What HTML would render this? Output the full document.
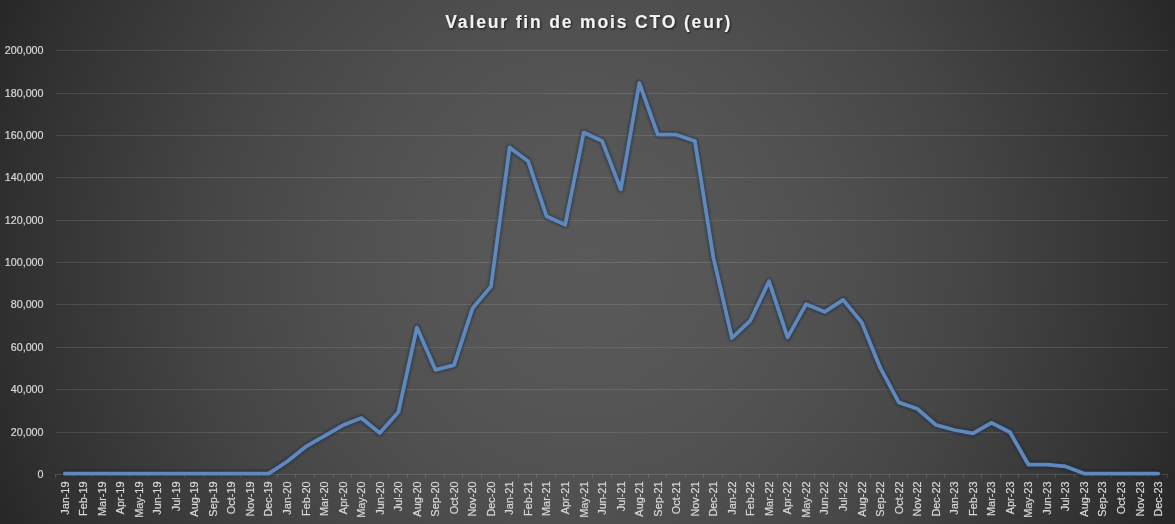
<!DOCTYPE html>
<html><head><meta charset="utf-8"><style>
html,body{margin:0;padding:0;width:1175px;height:524px;overflow:hidden;}
body{background:radial-gradient(circle farthest-corner at 587.5px 262px, rgb(89,89,89) 0%, rgb(88,88,88) 10%, rgb(86,86,86) 20%, rgb(83,83,83) 30%, rgb(79,79,79) 40%, rgb(74,74,74) 50%, rgb(69,69,69) 60%, rgb(62,62,62) 70%, rgb(55,55,55) 80%, rgb(48,48,48) 90%, rgb(39,39,39) 100%);}
svg{position:absolute;left:0;top:0;will-change:transform;}
text{font-family:"Liberation Sans",sans-serif;}
.g{stroke:rgba(255,255,255,0.11);stroke-width:1;}
.ax{stroke:rgba(255,255,255,0.13);stroke-width:1;}
.yl{font-size:10.7px;fill:#d9d9d9;stroke:#d9d9d9;stroke-width:0.2px;text-anchor:end;}
.xl{font-size:10.9px;fill:#d9d9d9;stroke:#d9d9d9;stroke-width:0.2px;text-anchor:end;}
.t{font-size:17.5px;font-weight:bold;fill:#f2f2f2;text-anchor:middle;letter-spacing:1.85px;}
.ln{fill:none;stroke:#5f89bc;stroke-width:3.8;stroke-linejoin:round;stroke-linecap:round;}
.sh{fill:none;stroke:rgba(22,38,64,0.55);stroke-width:6.2;filter:url(#bl);stroke-linejoin:round;stroke-linecap:round;}
</style></head><body>
<svg width="1175" height="524" viewBox="0 0 1175 524">
<line x1="56" y1="432.5" x2="1168" y2="432.5" class="g"/>
<line x1="56" y1="389.5" x2="1168" y2="389.5" class="g"/>
<line x1="56" y1="347.5" x2="1168" y2="347.5" class="g"/>
<line x1="56" y1="304.5" x2="1168" y2="304.5" class="g"/>
<line x1="56" y1="262.5" x2="1168" y2="262.5" class="g"/>
<line x1="56" y1="220.5" x2="1168" y2="220.5" class="g"/>
<line x1="56" y1="177.5" x2="1168" y2="177.5" class="g"/>
<line x1="56" y1="135.5" x2="1168" y2="135.5" class="g"/>
<line x1="56" y1="93.5" x2="1168" y2="93.5" class="g"/>
<line x1="56" y1="50.5" x2="1168" y2="50.5" class="g"/>
<line x1="55.0" y1="474.5" x2="1167.0" y2="474.5" class="ax"/>
<line x1="55.5" y1="474" x2="55.5" y2="478" class="ax"/>
<line x1="73.5" y1="474" x2="73.5" y2="478" class="ax"/>
<line x1="92.5" y1="474" x2="92.5" y2="478" class="ax"/>
<line x1="110.5" y1="474" x2="110.5" y2="478" class="ax"/>
<line x1="129.5" y1="474" x2="129.5" y2="478" class="ax"/>
<line x1="147.5" y1="474" x2="147.5" y2="478" class="ax"/>
<line x1="166.5" y1="474" x2="166.5" y2="478" class="ax"/>
<line x1="184.5" y1="474" x2="184.5" y2="478" class="ax"/>
<line x1="203.5" y1="474" x2="203.5" y2="478" class="ax"/>
<line x1="221.5" y1="474" x2="221.5" y2="478" class="ax"/>
<line x1="240.5" y1="474" x2="240.5" y2="478" class="ax"/>
<line x1="258.5" y1="474" x2="258.5" y2="478" class="ax"/>
<line x1="277.5" y1="474" x2="277.5" y2="478" class="ax"/>
<line x1="295.5" y1="474" x2="295.5" y2="478" class="ax"/>
<line x1="314.5" y1="474" x2="314.5" y2="478" class="ax"/>
<line x1="333.5" y1="474" x2="333.5" y2="478" class="ax"/>
<line x1="351.5" y1="474" x2="351.5" y2="478" class="ax"/>
<line x1="370.5" y1="474" x2="370.5" y2="478" class="ax"/>
<line x1="388.5" y1="474" x2="388.5" y2="478" class="ax"/>
<line x1="407.5" y1="474" x2="407.5" y2="478" class="ax"/>
<line x1="425.5" y1="474" x2="425.5" y2="478" class="ax"/>
<line x1="444.5" y1="474" x2="444.5" y2="478" class="ax"/>
<line x1="462.5" y1="474" x2="462.5" y2="478" class="ax"/>
<line x1="481.5" y1="474" x2="481.5" y2="478" class="ax"/>
<line x1="499.5" y1="474" x2="499.5" y2="478" class="ax"/>
<line x1="518.5" y1="474" x2="518.5" y2="478" class="ax"/>
<line x1="536.5" y1="474" x2="536.5" y2="478" class="ax"/>
<line x1="555.5" y1="474" x2="555.5" y2="478" class="ax"/>
<line x1="573.5" y1="474" x2="573.5" y2="478" class="ax"/>
<line x1="592.5" y1="474" x2="592.5" y2="478" class="ax"/>
<line x1="611.5" y1="474" x2="611.5" y2="478" class="ax"/>
<line x1="629.5" y1="474" x2="629.5" y2="478" class="ax"/>
<line x1="648.5" y1="474" x2="648.5" y2="478" class="ax"/>
<line x1="666.5" y1="474" x2="666.5" y2="478" class="ax"/>
<line x1="685.5" y1="474" x2="685.5" y2="478" class="ax"/>
<line x1="703.5" y1="474" x2="703.5" y2="478" class="ax"/>
<line x1="722.5" y1="474" x2="722.5" y2="478" class="ax"/>
<line x1="740.5" y1="474" x2="740.5" y2="478" class="ax"/>
<line x1="759.5" y1="474" x2="759.5" y2="478" class="ax"/>
<line x1="777.5" y1="474" x2="777.5" y2="478" class="ax"/>
<line x1="796.5" y1="474" x2="796.5" y2="478" class="ax"/>
<line x1="814.5" y1="474" x2="814.5" y2="478" class="ax"/>
<line x1="833.5" y1="474" x2="833.5" y2="478" class="ax"/>
<line x1="851.5" y1="474" x2="851.5" y2="478" class="ax"/>
<line x1="870.5" y1="474" x2="870.5" y2="478" class="ax"/>
<line x1="889.5" y1="474" x2="889.5" y2="478" class="ax"/>
<line x1="907.5" y1="474" x2="907.5" y2="478" class="ax"/>
<line x1="926.5" y1="474" x2="926.5" y2="478" class="ax"/>
<line x1="944.5" y1="474" x2="944.5" y2="478" class="ax"/>
<line x1="963.5" y1="474" x2="963.5" y2="478" class="ax"/>
<line x1="981.5" y1="474" x2="981.5" y2="478" class="ax"/>
<line x1="1000.5" y1="474" x2="1000.5" y2="478" class="ax"/>
<line x1="1018.5" y1="474" x2="1018.5" y2="478" class="ax"/>
<line x1="1037.5" y1="474" x2="1037.5" y2="478" class="ax"/>
<line x1="1055.5" y1="474" x2="1055.5" y2="478" class="ax"/>
<line x1="1074.5" y1="474" x2="1074.5" y2="478" class="ax"/>
<line x1="1092.5" y1="474" x2="1092.5" y2="478" class="ax"/>
<line x1="1111.5" y1="474" x2="1111.5" y2="478" class="ax"/>
<line x1="1129.5" y1="474" x2="1129.5" y2="478" class="ax"/>
<line x1="1148.5" y1="474" x2="1148.5" y2="478" class="ax"/>
<line x1="1167.5" y1="474" x2="1167.5" y2="478" class="ax"/>
<text x="43.5" y="478.3" class="yl">0</text>
<text x="43.5" y="436.3" class="yl">20,000</text>
<text x="43.5" y="393.3" class="yl">40,000</text>
<text x="43.5" y="351.3" class="yl">60,000</text>
<text x="43.5" y="308.3" class="yl">80,000</text>
<text x="43.5" y="266.3" class="yl">100,000</text>
<text x="43.5" y="224.3" class="yl">120,000</text>
<text x="43.5" y="181.3" class="yl">140,000</text>
<text x="43.5" y="139.3" class="yl">160,000</text>
<text x="43.5" y="97.3" class="yl">180,000</text>
<text x="43.5" y="54.3" class="yl">200,000</text>
<text transform="translate(68.6,481.5) rotate(-90)" class="xl">Jan-19</text>
<text transform="translate(87.1,481.5) rotate(-90)" class="xl">Feb-19</text>
<text transform="translate(105.6,481.5) rotate(-90)" class="xl">Mar-19</text>
<text transform="translate(124.2,481.5) rotate(-90)" class="xl">Apr-19</text>
<text transform="translate(142.7,481.5) rotate(-90)" class="xl">May-19</text>
<text transform="translate(161.2,481.5) rotate(-90)" class="xl">Jun-19</text>
<text transform="translate(179.8,481.5) rotate(-90)" class="xl">Jul-19</text>
<text transform="translate(198.3,481.5) rotate(-90)" class="xl">Aug-19</text>
<text transform="translate(216.8,481.5) rotate(-90)" class="xl">Sep-19</text>
<text transform="translate(235.4,481.5) rotate(-90)" class="xl">Oct-19</text>
<text transform="translate(253.9,481.5) rotate(-90)" class="xl">Nov-19</text>
<text transform="translate(272.4,481.5) rotate(-90)" class="xl">Dec-19</text>
<text transform="translate(291.0,481.5) rotate(-90)" class="xl">Jan-20</text>
<text transform="translate(309.5,481.5) rotate(-90)" class="xl">Feb-20</text>
<text transform="translate(328.0,481.5) rotate(-90)" class="xl">Mar-20</text>
<text transform="translate(346.6,481.5) rotate(-90)" class="xl">Apr-20</text>
<text transform="translate(365.1,481.5) rotate(-90)" class="xl">May-20</text>
<text transform="translate(383.6,481.5) rotate(-90)" class="xl">Jun-20</text>
<text transform="translate(402.2,481.5) rotate(-90)" class="xl">Jul-20</text>
<text transform="translate(420.7,481.5) rotate(-90)" class="xl">Aug-20</text>
<text transform="translate(439.2,481.5) rotate(-90)" class="xl">Sep-20</text>
<text transform="translate(457.8,481.5) rotate(-90)" class="xl">Oct-20</text>
<text transform="translate(476.3,481.5) rotate(-90)" class="xl">Nov-20</text>
<text transform="translate(494.8,481.5) rotate(-90)" class="xl">Dec-20</text>
<text transform="translate(513.4,481.5) rotate(-90)" class="xl">Jan-21</text>
<text transform="translate(531.9,481.5) rotate(-90)" class="xl">Feb-21</text>
<text transform="translate(550.4,481.5) rotate(-90)" class="xl">Mar-21</text>
<text transform="translate(569.0,481.5) rotate(-90)" class="xl">Apr-21</text>
<text transform="translate(587.5,481.5) rotate(-90)" class="xl">May-21</text>
<text transform="translate(606.0,481.5) rotate(-90)" class="xl">Jun-21</text>
<text transform="translate(624.6,481.5) rotate(-90)" class="xl">Jul-21</text>
<text transform="translate(643.1,481.5) rotate(-90)" class="xl">Aug-21</text>
<text transform="translate(661.6,481.5) rotate(-90)" class="xl">Sep-21</text>
<text transform="translate(680.2,481.5) rotate(-90)" class="xl">Oct-21</text>
<text transform="translate(698.7,481.5) rotate(-90)" class="xl">Nov-21</text>
<text transform="translate(717.2,481.5) rotate(-90)" class="xl">Dec-21</text>
<text transform="translate(735.8,481.5) rotate(-90)" class="xl">Jan-22</text>
<text transform="translate(754.3,481.5) rotate(-90)" class="xl">Feb-22</text>
<text transform="translate(772.8,481.5) rotate(-90)" class="xl">Mar-22</text>
<text transform="translate(791.4,481.5) rotate(-90)" class="xl">Apr-22</text>
<text transform="translate(809.9,481.5) rotate(-90)" class="xl">May-22</text>
<text transform="translate(828.4,481.5) rotate(-90)" class="xl">Jun-22</text>
<text transform="translate(847.0,481.5) rotate(-90)" class="xl">Jul-22</text>
<text transform="translate(865.5,481.5) rotate(-90)" class="xl">Aug-22</text>
<text transform="translate(884.0,481.5) rotate(-90)" class="xl">Sep-22</text>
<text transform="translate(902.6,481.5) rotate(-90)" class="xl">Oct-22</text>
<text transform="translate(921.1,481.5) rotate(-90)" class="xl">Nov-22</text>
<text transform="translate(939.6,481.5) rotate(-90)" class="xl">Dec-22</text>
<text transform="translate(958.2,481.5) rotate(-90)" class="xl">Jan-23</text>
<text transform="translate(976.7,481.5) rotate(-90)" class="xl">Feb-23</text>
<text transform="translate(995.2,481.5) rotate(-90)" class="xl">Mar-23</text>
<text transform="translate(1013.8,481.5) rotate(-90)" class="xl">Apr-23</text>
<text transform="translate(1032.3,481.5) rotate(-90)" class="xl">May-23</text>
<text transform="translate(1050.8,481.5) rotate(-90)" class="xl">Jun-23</text>
<text transform="translate(1069.4,481.5) rotate(-90)" class="xl">Jul-23</text>
<text transform="translate(1087.9,481.5) rotate(-90)" class="xl">Aug-23</text>
<text transform="translate(1106.4,481.5) rotate(-90)" class="xl">Sep-23</text>
<text transform="translate(1125.0,481.5) rotate(-90)" class="xl">Oct-23</text>
<text transform="translate(1143.5,481.5) rotate(-90)" class="xl">Nov-23</text>
<text transform="translate(1162.0,481.5) rotate(-90)" class="xl">Dec-23</text>
<text x="588.7" y="28" class="t" filter="url(#ts)">Valeur fin de mois CTO (eur)</text>
<defs><filter id="bl" x="-5%" y="-5%" width="110%" height="110%"><feGaussianBlur stdDeviation="0.8"/></filter>
<filter id="ts" x="-10%" y="-30%" width="120%" height="160%"><feGaussianBlur in="SourceAlpha" stdDeviation="1"/><feOffset dx="1" dy="1.2" result="o"/><feComponentTransfer><feFuncA type="linear" slope="0.7"/></feComponentTransfer><feMerge><feMergeNode/><feMergeNode in="SourceGraphic"/></feMerge></filter></defs>
<polyline class="sh" points="64.8,473.6 83.3,473.6 101.8,473.6 120.4,473.6 138.9,473.6 157.4,473.6 176.0,473.6 194.5,473.6 213.0,473.6 231.6,473.6 250.1,473.6 268.6,473.6 287.2,461.5 305.7,446.7 324.2,436.1 342.8,425.3 361.3,417.9 379.8,432.9 398.4,412.0 416.9,327.5 435.4,369.8 454.0,365.2 472.5,308.4 491.0,286.4 509.6,147.4 528.1,161.2 546.6,216.3 565.2,224.7 583.7,132.6 602.2,141.1 620.8,189.4 639.3,83.0 657.8,134.7 676.4,134.7 694.9,141.1 713.4,257.6 732.0,338.0 750.5,320.3 769.0,281.3 787.6,337.4 806.1,304.2 824.6,311.8 843.2,299.9 861.7,322.4 880.2,367.7 898.8,402.4 917.3,408.8 935.8,424.9 954.4,430.0 972.9,433.4 991.4,422.8 1010.0,432.3 1028.5,464.7 1047.0,464.7 1065.6,466.4 1084.1,473.6 1102.6,473.6 1121.2,473.6 1139.7,473.6 1158.2,473.6" transform="translate(0.05,0.1)"/>
<polyline class="ln" points="64.8,473.6 83.3,473.6 101.8,473.6 120.4,473.6 138.9,473.6 157.4,473.6 176.0,473.6 194.5,473.6 213.0,473.6 231.6,473.6 250.1,473.6 268.6,473.6 287.2,461.5 305.7,446.7 324.2,436.1 342.8,425.3 361.3,417.9 379.8,432.9 398.4,412.0 416.9,327.5 435.4,369.8 454.0,365.2 472.5,308.4 491.0,286.4 509.6,147.4 528.1,161.2 546.6,216.3 565.2,224.7 583.7,132.6 602.2,141.1 620.8,189.4 639.3,83.0 657.8,134.7 676.4,134.7 694.9,141.1 713.4,257.6 732.0,338.0 750.5,320.3 769.0,281.3 787.6,337.4 806.1,304.2 824.6,311.8 843.2,299.9 861.7,322.4 880.2,367.7 898.8,402.4 917.3,408.8 935.8,424.9 954.4,430.0 972.9,433.4 991.4,422.8 1010.0,432.3 1028.5,464.7 1047.0,464.7 1065.6,466.4 1084.1,473.6 1102.6,473.6 1121.2,473.6 1139.7,473.6 1158.2,473.6"/>
</svg>
</body></html>
